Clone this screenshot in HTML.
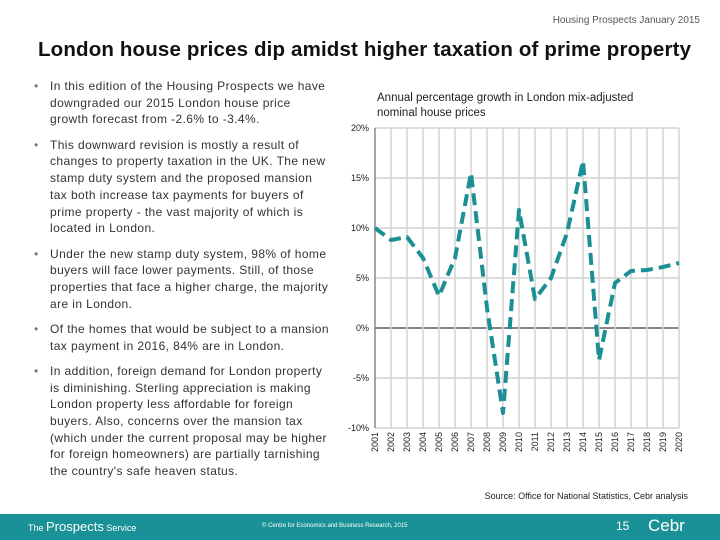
<!DOCTYPE html>
<html><head><meta charset="utf-8"><style>
body{margin:0;width:720px;height:540px;position:relative;background:#fff;font-family:"Liberation Sans",sans-serif;overflow:hidden}
.hdr{position:absolute;right:20px;top:15px;font-size:10px;color:#555}
h1{position:absolute;left:38px;top:38px;margin:0;font-size:20.5px;letter-spacing:0.15px;font-weight:bold;color:#111;white-space:nowrap}
ul{position:absolute;left:32px;top:78px;width:320px;margin:0;padding:0;list-style:none;font-size:12px;letter-spacing:0.4px;line-height:16.7px;color:#333;white-space:nowrap}
li{position:relative;padding-left:18px;margin-bottom:8.6px}
li:before{content:"•";position:absolute;left:2px;color:#777}
.src{position:absolute;right:32px;top:491px;font-size:9px;color:#222}
.foot{position:absolute;left:0;top:514px;width:720px;height:26px;background:#1a9196;color:#fff}
</style></head><body>
<div class="hdr">Housing Prospects January 2015</div>
<h1>London house prices dip amidst higher taxation of prime property</h1>
<ul>
<li>In this edition of the Housing Prospects we have<br>downgraded our 2015 London house price<br>growth forecast from -2.6% to -3.4%.</li>
<li>This downward revision is mostly a result of<br>changes to property taxation in the UK. The new<br>stamp duty system and the proposed mansion<br>tax both increase tax payments for buyers of<br>prime property - the vast majority of which is<br>located in London.</li>
<li>Under the new stamp duty system, 98% of home<br>buyers will face lower payments. Still, of those<br>properties that face a higher charge, the majority<br>are in London.</li>
<li>Of the homes that would be subject to a mansion<br>tax payment in 2016, 84% are in London.</li>
<li>In addition, foreign demand for London property<br>is diminishing. Sterling appreciation is making<br>London property less affordable for foreign<br>buyers. Also, concerns over the mansion tax<br>(which under the current proposal may be higher<br>for foreign homeowners) are partially tarnishing<br>the country's safe heaven status.</li>
</ul>
<svg id="chart" width="720" height="540" style="position:absolute;left:0;top:0"></svg>
<div class="src">Source: Office for National Statistics, Cebr analysis</div>
<div class="foot">
<span style="position:absolute;left:28px;top:5px;font-size:9px">The <span style="font-size:13px">Prospects</span> Service</span>
<span style="position:absolute;left:262px;top:9px;font-size:6px">© Centre for Economics and Business Research, 2015</span>
<span style="position:absolute;left:616px;top:5px;font-size:12px">15</span>
<span style="position:absolute;left:648px;top:2px;font-size:17px">Cebr</span>
</div>
<script>
const years=["2001","2002","2003","2004","2005","2006","2007","2008","2009","2010","2011","2012","2013","2014","2015","2016","2017","2018","2019","2020"];
const growth=[10,8.8,9.1,7,3.2,7,15.5,2,-8.5,11.8,2.9,5,9.5,16.7,-3.2,4.5,5.7,5.8,6.1,6.5];
const yTicks=[20,15,10,5,0,-5,-10];
const svg=document.getElementById('chart');
const NS='http://www.w3.org/2000/svg';
const x0=375,x1=679,yTop=128,yBot=428,yMax=20,yMin=-10;
const xs=i=>x0+i*(x1-x0)/(years.length-1);
const ys=v=>yTop+(yMax-v)*(yBot-yTop)/(yMax-yMin);
function mk(t,a){const e=document.createElementNS(NS,t);for(const k in a)e.setAttribute(k,a[k]);svg.appendChild(e);return e;}
let t=mk('text',{x:377,y:101,'font-size':11.5,fill:'#222'});t.textContent='Annual percentage growth in London mix-adjusted';


t=mk('text',{x:377,y:116,'font-size':11.5,fill:'#222'});t.textContent='nominal house prices';


yTicks.forEach(v=>{
 const l=mk('line',{x1:x0,x2:x1,y1:ys(v),y2:ys(v),stroke:v===0?'#888':'#d4d4d4','stroke-width':v===0?2:1.5});
 
 
 const tx=mk('text',{x:369,y:ys(v)+3,'font-size':9,fill:'#222','text-anchor':'end'});tx.textContent=v+'%';
 
 
});
years.forEach((y,i)=>{
 const l=mk('line',{x1:xs(i),x2:xs(i),y1:yTop,y2:yBot,stroke:i===0?'#888':'#d4d4d4','stroke-width':1.5});
 
 
 const tx=mk('text',{x:0,y:0,'font-size':9,fill:'#222','text-anchor':'end',transform:`translate(${xs(i)+3},${yBot+4}) rotate(-90)`});tx.textContent=y;
 
 
});
const p=mk('polyline',{points:growth.map((v,i)=>xs(i)+','+ys(v)).join(' '),fill:'none',stroke:'#1b8f94','stroke-width':4,'stroke-dasharray':'12,6','stroke-linejoin':'round'});


</script>
</body></html>
